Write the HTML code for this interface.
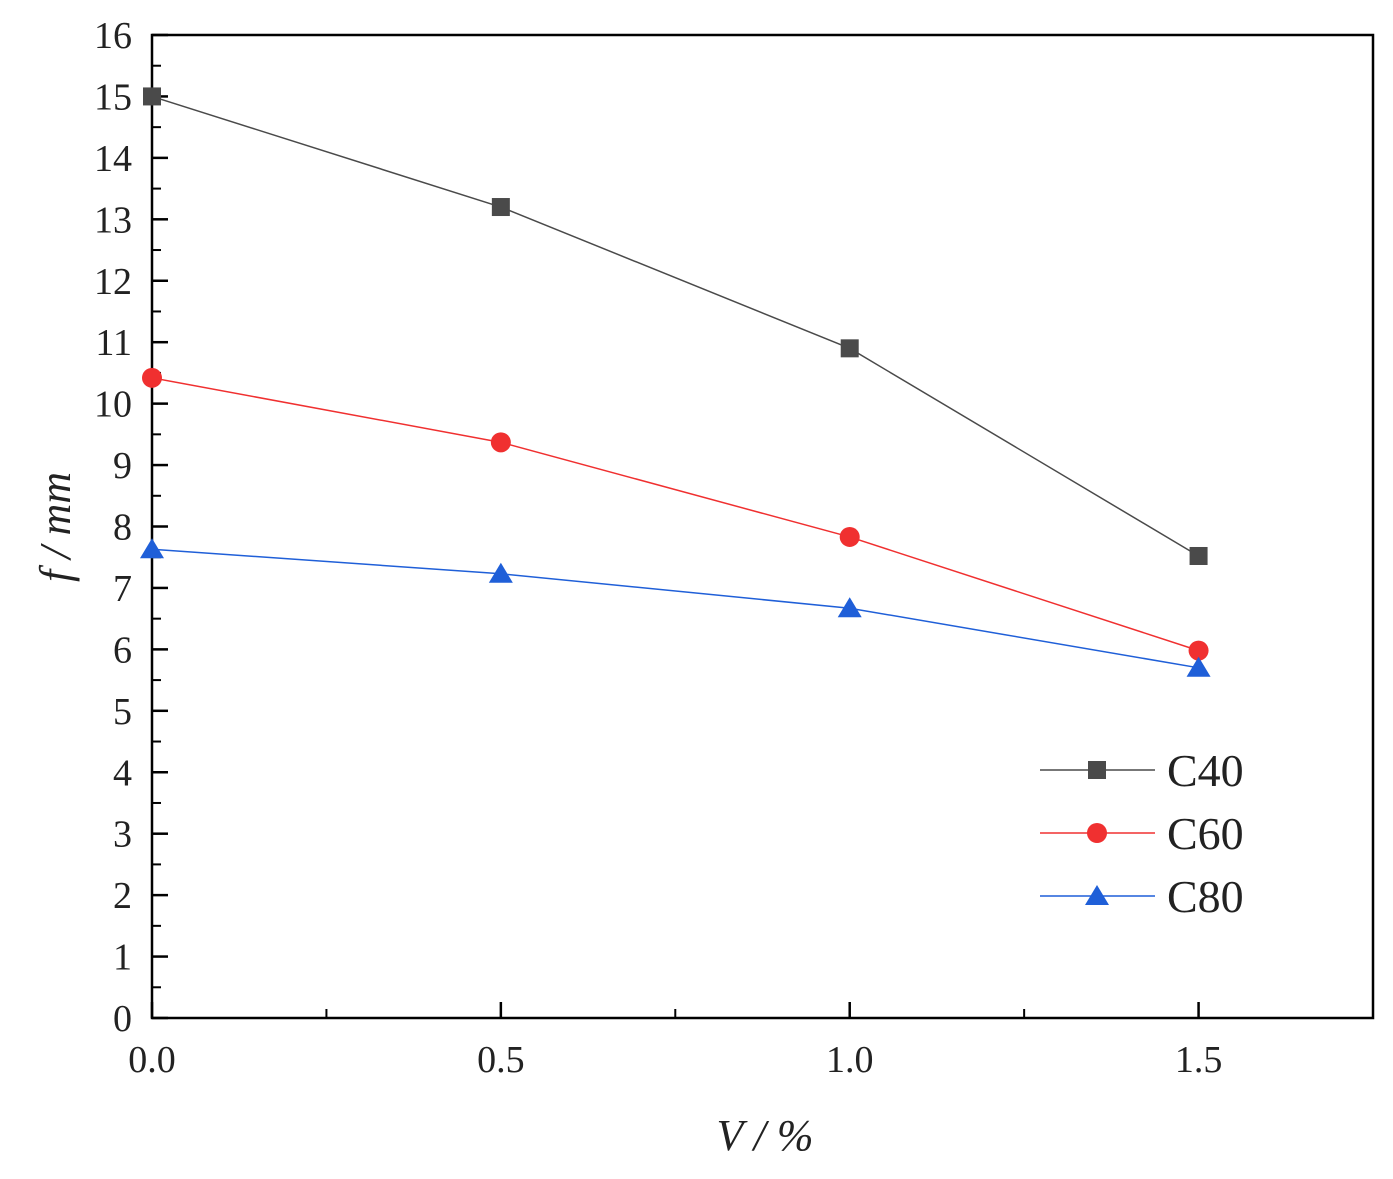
<!DOCTYPE html>
<html><head><meta charset="utf-8"><style>body{margin:0;background:#fff}svg{display:block}</style></head>
<body>
<svg id="chart" width="1393" height="1179" xmlns="http://www.w3.org/2000/svg" font-family="'Liberation Serif',serif"></svg>
<script>
const xValues=[0,0.5,1.0,1.5];
const c40=[15.0,13.2,10.9,7.52];
const c60=[10.42,9.37,7.83,5.98];
const c80=[7.63,7.23,6.67,5.70];
const yTicks=[0,1,2,3,4,5,6,7,8,9,10,11,12,13,14,15,16];
const xTicks=[0,0.5,1.0,1.5];
const xTickLabels=["0.0","0.5","1.0","1.5"];
const L=152,R=1373,T=35,B=1018;
const sx=v=>L+v/1.75*(R-L);
const sy=v=>B-v/16*(B-T);
const svg=document.getElementById('chart');
const NS='http://www.w3.org/2000/svg';
function mk(tag,attrs,parent){const e=document.createElementNS(NS,tag);for(const k in attrs)e.setAttribute(k,attrs[k]);(parent||svg).appendChild(e);return e;}
const frame=mk('rect',{x:L,y:T,width:R-L,height:B-T,fill:'none',stroke:'#000','stroke-width':2.5});


yTicks.forEach(v=>{
  const y=sy(v);
  mk('line',{x1:L,x2:L+16,y1:y,y2:y,stroke:'#000','stroke-width':2.5});
  if(v<16) mk('line',{x1:L,x2:L+9,y1:sy(v+0.5),y2:sy(v+0.5),stroke:'#000','stroke-width':2});
  const t=mk('text',{x:L-20,y:y+13,'text-anchor':'end','font-size':38,fill:'#222'});
  t.textContent=v;
  
  
});
xTicks.forEach((v,i)=>{
  const x=sx(v);
  mk('line',{x1:x,x2:x,y1:B,y2:B-16,stroke:'#000','stroke-width':2.5});
  mk('line',{x1:sx(v+0.25),x2:sx(v+0.25),y1:B,y2:B-9,stroke:'#000','stroke-width':2});
  const t=mk('text',{x:x,y:1072,'text-anchor':'middle','font-size':38,fill:'#222'});
  t.textContent=xTickLabels[i];
  
  
});
const xt=mk('text',{x:765,y:1150,'text-anchor':'middle','font-size':44,'font-style':'italic',fill:'#222'});
xt.textContent='V / %';


const yt=mk('text',{x:0,y:0,'text-anchor':'middle','font-size':44,'font-style':'italic',fill:'#222',transform:'translate(70,527) rotate(-90)'});
yt.textContent='f / mm';


function marker(kind,x,y,color){
  if(kind==='sq') return mk('rect',{x:x-9,y:y-9,width:18,height:18,fill:color});
  if(kind==='ci') return mk('circle',{cx:x,cy:y,r:10,fill:color});
  return mk('polygon',{points:`${x},${y-11} ${x-12},${y+9} ${x+12},${y+9}`,fill:color});
}
const series=[[c40,'#4a4a4a','sq','C40'],[c60,'#f03030','ci','C60'],[c80,'#1f5fd8','tr','C80']];
series.forEach((s,si)=>{
  const [vals,color,kind,name]=s;
  const pl=mk('polyline',{points:vals.map((v,i)=>sx(xValues[i])+','+sy(v)).join(' '),fill:'none',stroke:color,'stroke-width':1.5});
  
  
  vals.forEach((v,i)=>{
    const m=marker(kind,sx(xValues[i]),sy(v),color);
    
    
  });
  const ly=770+si*63;
  mk('line',{x1:1040,x2:1155,y1:ly,y2:ly,stroke:color,'stroke-width':1.5});
  const lm=marker(kind,1097,ly,color);
  
  
  const lt=mk('text',{x:1167,y:ly+16,'font-size':46,fill:'#222'});
  lt.textContent=name;
  
  
});
</script>
</body></html>
